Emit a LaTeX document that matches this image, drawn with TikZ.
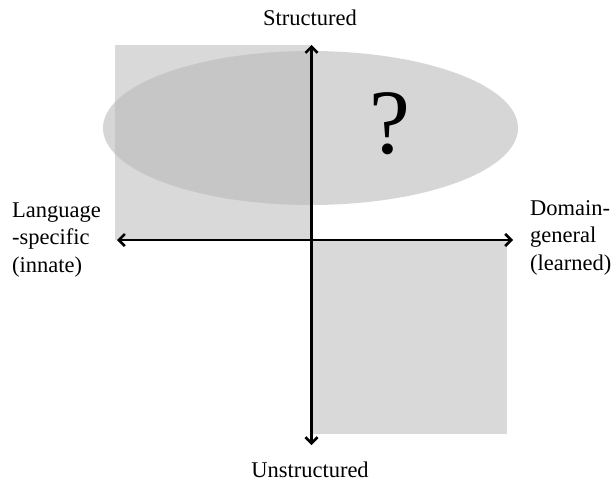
\documentclass[tikz,border=0pt]{standalone}
\usepackage{fontspec}
\setmainfont{Liberation Serif}
\usetikzlibrary{arrows.meta}
\definecolor{rectgray}{RGB}{217,217,217}
\definecolor{ellgray}{RGB}{185,185,185}
\tikzset{
  quadbox/.style={fill=rectgray, draw=none},
  ovalfill/.style={fill=ellgray, fill opacity=0.58, draw=none},
  axisline/.style={line width=2.3pt, {Straight Barb[length=6pt,width=12pt,line width=2.6pt]}-{Straight Barb[length=6pt,width=12pt,line width=2.6pt]}},
  lbl/.style={inner sep=0pt, font=\fontsize{22.5}{27.5}\selectfont},
}
\begin{document}
\begin{tikzpicture}[x=1pt,y=-1pt]
\useasboundingbox (0,0) rectangle (616,482);
% quadrant boxes
\fill[quadbox] (115,45) rectangle (312,240);
\fill[quadbox] (312,240) rectangle (507,434);
% ellipse
\fill[ovalfill] (310.5,128) ellipse [x radius=207.5, y radius=77];
\node[inner sep=0pt, font=\fontsize{92}{92}\selectfont] (q) at (390,124) {?};
% axes
\coordinate (top) at (311.5,45);
\coordinate (bot) at (311.5,445);
\coordinate (lft) at (117,240);
\coordinate (rgt) at (513,240);
\draw[axisline] (lft) -- (rgt);
\draw[axisline] (bot) -- (top);
% labels
\node[lbl, anchor=base] (s) at (310,25) {Structured};
\node[lbl, anchor=base] (u) at (310,477) {Unstructured};
\node[lbl, anchor=base west, align=left] (l) at (12,272) {Language\\-specific\\(innate)};
\node[lbl, anchor=base west, align=left] (r) at (530,270) {Domain-\\general\\(learned)};
\end{tikzpicture}
\end{document}
